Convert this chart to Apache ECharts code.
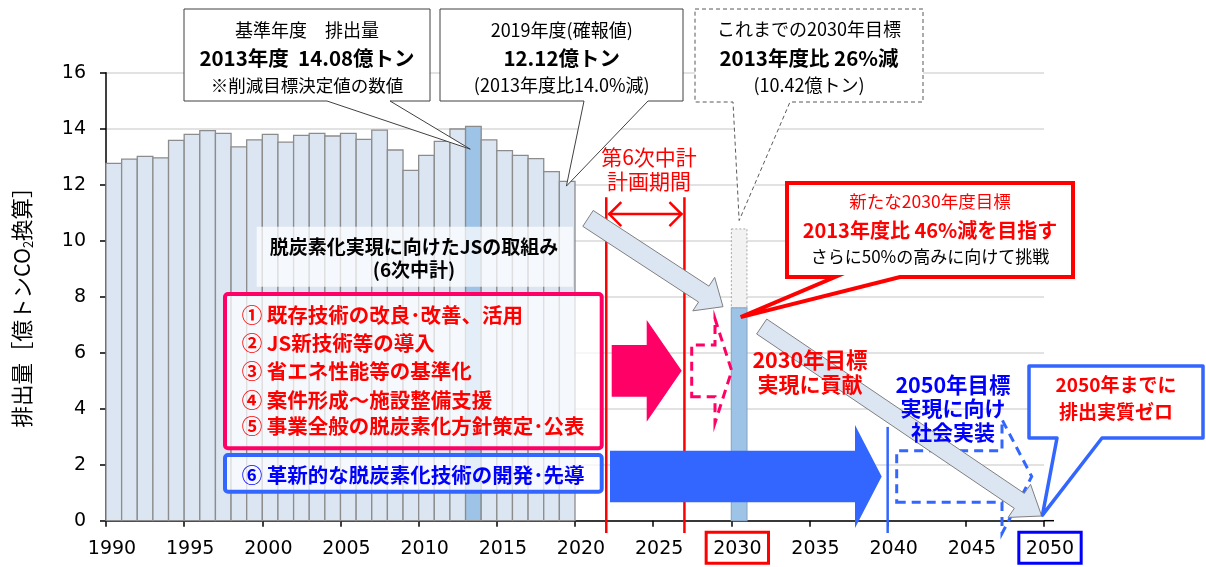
<!DOCTYPE html>
<html><head><meta charset="utf-8">
<script src="https://cdn.jsdelivr.net/npm/echarts@6/dist/echarts.min.js"></script>
<style>html,body{margin:0;padding:0;background:#fff}#c{width:1206px;height:567px}</style>
</head><body><div id="c"></div>
<script>
// ---- data ----
const years = [1990,1991,1992,1993,1994,1995,1996,1997,1998,1999,2000,2001,2002,2003,2004,2005,2006,2007,2008,2009,2010,2011,2012,2013,2014,2015,2016,2017,2018,2019];
const emissions = [12.76,12.91,13.01,12.96,13.58,13.80,13.93,13.83,13.35,13.60,13.80,13.52,13.76,13.83,13.74,13.83,13.62,13.95,13.24,12.51,13.05,13.55,13.99,14.08,13.60,13.22,13.05,12.93,12.47,12.12];
const baseYear = 2013;
const targetYear = [2030];
const newTarget = [7.60];
const oldTarget = [10.42];
const planStart = 2022, planEnd = 2027, socialYear = 2040;

const JP = "'Noto Sans CJK JP','Noto Sans',sans-serif";
const NUM = "'DejaVu Sans',sans-serif";

const chart = echarts.init(document.getElementById('c'));
const barData = years.map((y,i)=>[y, emissions[i]]);
const tgtData = targetYear.map((y,i)=>[y, newTarget[i], oldTarget[i]]);

chart.setOption({
  animation:false,
  grid:{left:106,right:162,top:72.7,bottom:46.3},
  xAxis:{type:'value',min:1990,max:2050,interval:5,
    axisLine:{lineStyle:{color:'#000',width:1.5}},
    axisTick:{show:true,length:6,lineStyle:{color:'#000',width:1.5}},
    splitLine:{show:false},
    axisLabel:{margin:17,padding:[0,0,0,12],
      formatter:v=> v===2030?'{r|'+v+'}':(v===2050?'{b|'+v+'}':'{n|'+v+'}'),
      rich:{
        n:{fontSize:19,fontFamily:NUM,color:'#000',padding:[7,7,5,7],lineHeight:20},
        r:{fontSize:19,fontFamily:NUM,color:'#000',padding:[7,7,5,7],lineHeight:20,borderColor:'#ff0000',borderWidth:3},
        b:{fontSize:19,fontFamily:NUM,color:'#000',padding:[7,7,5,7],lineHeight:20,borderColor:'#0000ff',borderWidth:3}
      }}
  },
  yAxis:{type:'value',min:0,max:16,interval:2,
    axisLine:{show:true,lineStyle:{color:'#000',width:1.5}},
    axisTick:{show:true,length:6,lineStyle:{color:'#000',width:1.5}},
    splitLine:{lineStyle:{color:'#d9d9d9',width:1.5}},
    axisLabel:{fontSize:19,fontFamily:NUM,color:'#000',margin:20}
  },
  series:[
    {type:'custom',data:barData,encode:{x:0,y:1},z:2,
      renderItem:(params,api)=>{
        const x=api.value(0), v=api.value(1);
        const p0=api.coord([x,v]), p1=api.coord([x+1,0]);
        return {type:'rect',shape:{x:p0[0],y:p0[1],width:p1[0]-p0[0],height:p1[1]-p0[1]},
          style:{fill:x===baseYear?'#9dc3e6':'#dce6f2',stroke:'#8c8c8c',lineWidth:1.3}};
      }},
    {type:'custom',data:tgtData,encode:{x:0,y:1},z:2,
      renderItem:(params,api)=>{
        const x=api.value(0), v=api.value(1), o=api.value(2);
        const a=api.coord([x,o]), b=api.coord([x+1,v]), c=api.coord([x,0]);
        return {type:'group',children:[
          {type:'rect',shape:{x:a[0],y:a[1],width:b[0]-a[0],height:b[1]-a[1]},
            style:{fill:'#f2f2f2',stroke:'#a6a6a6',lineWidth:1,lineDash:[2,2]}},
          {type:'rect',shape:{x:a[0],y:b[1],width:b[0]-a[0],height:c[1]-b[1]},
            style:{fill:'#9dc3e6',stroke:'#8ea9c8',lineWidth:1.2}}
        ]};
      }}
  ]
});

const P=(x,y)=>chart.convertToPixel({gridIndex:0},[x,y]);

function blockArrow(tail,tip,sw,hw,hl){
  const dx=tip[0]-tail[0],dy=tip[1]-tail[1],L=Math.hypot(dx,dy);
  const ux=dx/L,uy=dy/L,nx=-uy,ny=ux;
  const bx=tip[0]-ux*hl,by=tip[1]-uy*hl;
  return [[tail[0]+nx*sw/2,tail[1]+ny*sw/2],[bx+nx*sw/2,by+ny*sw/2],[bx+nx*hw/2,by+ny*hw/2],tip,
          [bx-nx*hw/2,by-ny*hw/2],[bx-nx*sw/2,by-ny*sw/2],[tail[0]-nx*sw/2,tail[1]-ny*sw/2]];
}
function callout(x0,y0,x1,y1,b1,b2,tip){
  return [[x0,y0],[x1,y0],[x1,y1],[b2,y1],tip,[b1,y1],[x0,y1]];
}
function T(text,x,y,size,color,bold,align,z){
  return {type:'text',x:x,y:y,z:z||60,style:{text:text,fill:color,fontSize:size,fontWeight:bold?'bold':'normal',
    fontFamily:JP,align:align||'center',verticalAlign:'middle',textAlign:align||'center',textVerticalAlign:'middle'}};
}
function poly(points,style,z){return {type:'polygon',z:z||40,shape:{points:points},style:style};}
function line(a,b,style,z){return {type:'line',z:z||40,shape:{x1:a[0],y1:a[1],x2:b[0],y2:b[1]},style:style};}

const g=[];
// axis line extension past 2050
const e0=P(2050,0);
g.push(line([e0[0],e0[1]],[e0[0]+10,e0[1]],{stroke:'#000',lineWidth:1.5},5));
// translucent boxes
g.push({type:'rect',z:30,shape:{x:256.7,y:226.7,width:316.3,height:60},style:{fill:'rgba(255,255,255,0.72)'}});
g.push({type:'rect',z:30,shape:{x:225,y:294,width:376.7,height:154.3,r:3},style:{fill:'rgba(255,255,255,0.72)',stroke:'#ff0066',lineWidth:4}});
g.push({type:'rect',z:30,shape:{x:225,y:455,width:376.7,height:36.7,r:3},style:{fill:'rgba(255,255,255,0.72)',stroke:'#3366ff',lineWidth:4}});

// plan period lines
const rs=P(planStart,11.55), re=P(planEnd,11.55), rb=P(planStart,-0.44);
g.push(line([rs[0],rs[1]],[rs[0],rb[1]],{stroke:'#ff0000',lineWidth:2.5},35));
g.push(line([re[0],re[1]],[re[0],rb[1]],{stroke:'#ff0000',lineWidth:2.5},35));
const ay=P(planStart,10.95)[1];
g.push(line([rs[0]+2,ay],[re[0]-2,ay],{stroke:'#ff0000',lineWidth:2.5},35));
g.push({type:'polyline',z:35,shape:{points:[[rs[0]+15,ay-12],[rs[0]+3,ay],[rs[0]+15,ay+12]]},style:{stroke:'#ff0000',lineWidth:2.5,fill:null}});
g.push({type:'polyline',z:35,shape:{points:[[re[0]-15,ay-12],[re[0]-3,ay],[re[0]-15,ay+12]]},style:{stroke:'#ff0000',lineWidth:2.5,fill:null}});
// 2040 line
const bs=P(socialYear,3.35), bb=P(socialYear,-0.44);
g.push(line(bs,[bs[0],bb[1]],{stroke:'#3366ff',lineWidth:2.5},35));

// pink arrows
g.push(poly(blockArrow([611.7,370.8],[681.7,370.8],51.7,101.7,35),{fill:'#ff0066'},36));
g.push(poly(blockArrow([691.7,370.8],[731.7,370.8],51.7,104,16.7),{fill:null,stroke:'#ff0066',lineWidth:3,lineDash:[9,6]},36));
// blue arrows
g.push(poly(blockArrow([610,476.5],[881.7,476.5],51.7,103,26.7),{fill:'#3366ff'},36));
g.push(poly(blockArrow([896.7,476.5],[1031.7,476.5],51.7,114,29.7),{fill:null,stroke:'#3366ff',lineWidth:3,lineDash:[9,6]},36));
// light blue trend arrows
g.push(poly(blockArrow([588,218.4],[723,306.7],19,40,23),{fill:'#dce6f2',stroke:'#7f7f7f',lineWidth:1},38));
g.push(poly(blockArrow([761.7,326.5],[1041.7,516],18,40,27),{fill:'#dce6f2',stroke:'#7f7f7f',lineWidth:1},38));

// callouts
g.push(poly(callout(184,9,430,101,327,390,P(2013.3,13.27)),{fill:'#fff',stroke:'#404040',lineWidth:1},50));
g.push(poly(callout(440,9,683,101,584,648,P(2019.45,11.95)),{fill:'#fff',stroke:'#404040',lineWidth:1},50));
g.push(poly(callout(695,9,923,102,733,790,P(2030.5,10.72)),{fill:'#fff',stroke:'#595959',lineWidth:1,lineDash:[4,3]},50));
g.push(poly(callout(787,183,1073,277,835,900,P(2030.6,7.27)),{fill:'#fff',stroke:'#ff0000',lineWidth:4},50));
g.push(poly(callout(1029,366,1203,438,1057,1102,P(2049.9,0.2)),{fill:'#fff',stroke:'#3366ff',lineWidth:3.5,lineJoin:'round'},50));

// texts
g.push(T('基準年度　排出量',307,30,18,'#000',false));
g.push(T('2013年度  14.08億トン',307,58,20.5,'#000',true));
g.push(T('※削減目標決定値の数値',307,85,17.5,'#000',false));
g.push(T('2019年度(確報値)',561.7,30,18,'#000',false));
g.push(T('12.12億トン',561.7,58,20.5,'#000',true));
g.push(T('(2013年度比14.0%減)',561.7,85,18,'#000',false));
g.push(T('これまでの2030年目標',809,29,18,'#000',false));
g.push(T('2013年度比 26%減',809,58,20.5,'#000',true));
g.push(T('(10.42億トン)',809,85,18,'#000',false));
g.push(T('新たな2030年度目標',930,201,17.5,'#ff0000',false));
g.push(T('2013年度比 46%減を目指す',930,230,20,'#ff0000',true));
g.push(T('さらに50%の高みに向けて挑戦',930,257,17,'#000',false));
g.push(T('第6次中計',649,157,21,'#ff0000',false));
g.push(T('計画期間',649,181,21,'#ff0000',false));
g.push(T('脱炭素化実現に向けたJSの取組み',414,246.7,19,'#000',true));
g.push(T('(6次中計)',414,270,19,'#000',true));
const items=['① 既存技術の改良･改善、活用','② JS新技術等の導入','③ 省エネ性能等の基準化','④ 案件形成～施設整備支援','⑤ 事業全般の脱炭素化方針策定･公表'];
const iy=[315,343.3,371.7,400,426.7];
items.forEach((s,i)=>g.push(T(s,241.7,iy[i],20.5,'#ff0000',true,'left')));
g.push(T('⑥ 革新的な脱炭素化技術の開発･先導',241.7,475,20.5,'#0000ff',true,'left'));
g.push(T('2030年目標',810,360,21.5,'#ff0000',true));
g.push(T('実現に貢献',810,384,21,'#ff0000',true));
g.push(T('2050年目標',953,385,21.5,'#0000ff',true));
g.push(T('実現に向け',953,408.5,21,'#0000ff',true));
g.push(T('社会実装',953,432,21,'#0000ff',true));
g.push(T('2050年までに',1116,385,19,'#ff0000',true));
g.push(T('排出実質ゼロ',1116,411.7,19,'#ff0000',true));
// y axis name
g.push({type:'text',x:22,y:302,rotation:Math.PI/2,z:60,style:{text:'{a|排出量［億トンCO}{s|2}{a|換算］}',
  align:'center',verticalAlign:'middle',textAlign:'center',textVerticalAlign:'middle',
  rich:{a:{fontSize:21.5,fontFamily:JP,fill:'#000',color:'#000',lineHeight:26},
        s:{fontSize:13,fontFamily:JP,fill:'#000',color:'#000',lineHeight:13,verticalAlign:'bottom'}}}});

chart.setOption({graphic:{elements:g}});
</script></body></html>
